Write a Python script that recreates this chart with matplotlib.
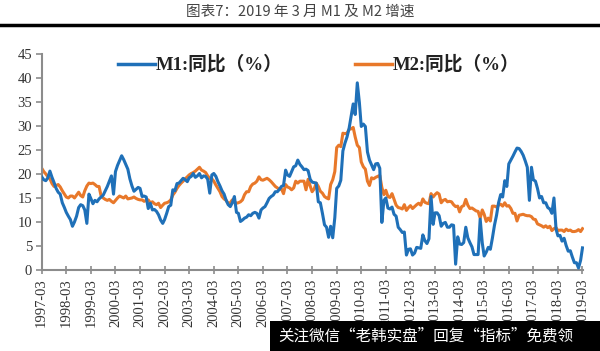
import numpy as np
import pandas as pd
import matplotlib
matplotlib.use("Agg")
import matplotlib.pyplot as plt
from matplotlib.lines import Line2D

# monthly yoy growth, 1997-03 .. 2019-03
m1_growth = [
    19.4, 18.8, 18.6, 19.2, 20.6, 19.3, 18.2, 17.0, 16.2, 15.8,                    # 1997
    14.0, 13.0, 12.0, 11.2, 10.5, 9.1, 10.0, 11.2, 13.0, 13.6, 13.4, 12.5,         # 1998
    9.7, 15.8, 14.9, 13.8, 14.5, 14.2, 14.8, 15.2, 15.6, 16.5, 17.4, 18.5,         # 1999
    19.6, 15.8, 20.5, 21.8, 22.8, 23.8, 23.0, 22.0, 21.0, 19.0, 17.5, 16.4,        # 2000
    16.8, 17.2, 17.0, 15.3, 15.4, 15.2, 12.8, 13.9, 12.5, 12.6, 12.2, 11.5,        # 2001
    10.4, 9.7, 10.5, 11.8, 13.2, 13.5, 16.7, 16.5, 18.0, 18.1, 18.6, 19.1,         # 2002
    18.8, 18.4, 19.2, 19.5, 20.1, 19.3, 19.6, 20.1, 19.2, 19.6, 19.5, 18.9,        # 2003
    16.0, 19.8, 20.1, 19.5, 18.4, 17.5, 16.5, 15.8, 14.5, 13.6, 13.2, 14.0,        # 2004
    15.3, 12.0, 11.8, 10.1, 10.4, 10.8, 11.0, 11.5, 11.3, 11.8, 12.0, 11.8,        # 2005
    10.8, 12.5, 12.9, 13.2, 14.0, 14.9, 15.3, 15.6, 16.3, 16.3, 16.8, 17.4,        # 2006
    17.6, 20.8, 19.8, 19.5, 20.5, 21.5, 21.7, 22.9, 22.0, 21.5, 20.9, 21.0,        # 2007
    20.7, 18.9, 18.3, 18.2, 18.1, 14.2, 14.0, 11.8, 9.4, 8.9, 6.8, 9.1,            # 2008
    6.7, 10.9, 17.0, 17.5, 18.7, 24.8, 26.4, 27.7, 29.5, 32.0, 34.6, 32.4,         # 2009
    39.0, 34.9, 29.9, 30.4, 29.9, 24.6, 22.9, 21.9, 20.9, 22.1, 22.2, 21.2,        # 2010
    9.9, 14.5, 15.0, 12.9, 12.7, 13.1, 11.6, 11.2, 8.9, 8.4, 7.8, 7.9,             # 2011
    3.1, 4.3, 4.4, 3.1, 3.5, 4.7, 4.6, 4.5, 7.3, 6.1, 5.5, 6.5,                    # 2012
    15.3, 9.5, 11.9, 11.9, 11.3, 9.1, 9.7, 9.9, 8.9, 8.9, 9.4, 9.3,                # 2013
    1.2, 6.9, 5.4, 5.3, 5.7, 8.9, 6.7, 5.7, 4.8, 3.2, 3.2, 3.2,                    # 2014
    10.6, 5.6, 2.9, 3.7, 4.7, 4.3, 6.6, 9.3, 11.4, 14.0, 15.7, 15.2,               # 2015
    18.6, 17.4, 22.1, 22.9, 23.7, 24.6, 25.4, 25.3, 24.7, 23.9, 22.7, 21.4,        # 2016
    14.5, 21.4, 18.8, 18.5, 17.0, 15.0, 15.3, 14.0, 14.0, 13.0, 12.7, 11.8,        # 2017
    15.0, 8.5, 7.1, 7.2, 6.0, 6.6, 5.1, 3.9, 4.0, 2.7, 1.5, 1.5,                   # 2018
    0.4, 2.0, 4.6,                                                                 # 2019
]

m2_growth = [
    21.2, 20.5, 20.0, 19.4, 19.0, 18.0, 17.4, 17.6, 17.8, 17.3,                    # 1997
    16.5, 15.8, 15.2, 15.0, 15.4, 15.4, 15.0, 15.6, 16.2, 15.5, 15.2, 16.5,        # 1998
    17.5, 18.1, 18.0, 18.1, 17.8, 17.4, 17.4, 15.4, 15.0, 14.7, 14.5, 14.7,        # 1999
    14.3, 14.0, 14.5, 15.0, 15.4, 15.2, 15.0, 15.4, 14.8, 14.9, 15.0, 15.2,        # 2000
    14.9, 14.7, 14.6, 14.6, 14.3, 14.5, 14.6, 14.0, 14.2, 13.8, 13.6, 13.9,        # 2001
    13.0, 13.5, 13.9, 14.0, 14.2, 14.6, 15.6, 16.2, 17.0, 17.6, 18.1, 18.5,        # 2002
    19.0, 19.4, 19.8, 20.1, 20.3, 20.6, 21.0, 21.4, 20.8, 20.6, 20.3, 19.6,        # 2003
    19.1, 19.0, 18.5, 17.7, 17.0, 16.3, 15.3, 14.8, 14.5, 13.9, 14.0, 14.6,        # 2004
    14.2, 13.9, 14.0, 14.2, 14.6, 15.7, 16.3, 16.3, 17.4, 17.9, 18.1, 18.5,        # 2005
    19.4, 18.8, 18.7, 18.9, 19.1, 18.8, 18.4, 17.9, 17.4, 17.1, 16.8, 16.9,        # 2006
    15.9, 17.8, 17.3, 17.1, 16.7, 17.1, 18.5, 18.1, 18.5, 18.5, 18.5, 16.7,        # 2007
    18.9, 17.5, 16.3, 16.9, 18.1, 17.4, 16.4, 16.0, 15.3, 15.0, 14.8, 17.8,        # 2008
    18.8, 20.5, 25.5, 26.0, 25.7, 28.5, 28.4, 28.5, 29.3, 29.4, 29.7, 27.7,        # 2009
    26.0, 25.5, 22.5, 21.5, 21.0, 18.5, 17.6, 19.2, 19.0, 19.3, 19.5, 19.7,        # 2010
    17.2, 15.7, 16.6, 15.3, 15.1, 15.9, 14.7, 13.5, 13.0, 12.9, 12.7, 13.6,        # 2011
    12.4, 13.0, 13.4, 12.8, 13.2, 13.6, 13.9, 13.5, 14.8, 14.1, 13.9, 13.8,        # 2012
    15.9, 15.2, 15.7, 16.1, 15.8, 14.0, 14.5, 14.7, 14.2, 14.3, 14.2, 13.6,        # 2013
    13.2, 13.3, 12.1, 13.2, 13.4, 14.7, 13.5, 12.8, 12.9, 12.6, 12.3, 12.2,        # 2014
    10.8, 12.5, 11.6, 10.1, 10.8, 10.2, 13.3, 13.3, 13.1, 13.5, 13.7, 13.3,        # 2015
    14.0, 13.3, 13.4, 12.8, 11.8, 11.8, 10.2, 11.4, 11.5, 11.6, 11.4, 11.3,        # 2016
    11.3, 11.1, 10.6, 10.5, 9.6, 9.4, 9.2, 8.9, 9.2, 8.8, 9.1, 8.2,                # 2017
    8.6, 8.8, 8.2, 8.3, 8.3, 8.0, 8.5, 8.2, 8.3, 8.0, 8.0, 8.1,                    # 2018
    8.4, 8.0, 8.6,                                                                 # 2019
]

years = list(range(1997, 2020))
tick_labels = [f"{y}-03" for y in years]
title_text = "图表7：2019 年 3 月 M1 及 M2 增速"
m1_label = "M1:同比（%）"
m2_label = "M2:同比（%）"
footer_text = "关注微信“老韩实盘”回复“指标”免费领"

blue = "#1f70b8"
orange = "#e8782a"
gray = "#8c8c8c"

dates = pd.date_range("1997-03-01", periods=len(m1_growth), freq="MS")
tick_dates = pd.to_datetime([f"{y}-03-01" for y in years])

fig = plt.figure(figsize=(6, 3.51), dpi=100)
ax = fig.add_axes([0.0695, 0.231, 0.903, 0.615])

ax.plot(dates, m1_growth, color=blue, lw=2.2, zorder=3)
ax.plot(dates, m2_growth, color=orange, lw=2.2, zorder=2)

ax.set_ylim(0, 45)
ax.set_yticks(np.arange(0, 46, 5))
ax.set_xlim(tick_dates[0], tick_dates[-1] + pd.Timedelta(days=15))
ax.set_xticks(tick_dates)
ax.set_xticklabels(tick_labels, rotation=90)

serif = ["Liberation Serif", "Noto Sans CJK SC"]
for lab in ax.get_xticklabels() + ax.get_yticklabels():
    lab.set_family(serif)
    lab.set_fontsize(10.5)
    lab.set_color("#333333")

for s in ["top", "right"]:
    ax.spines[s].set_visible(False)
for s in ["left", "bottom"]:
    ax.spines[s].set_color(gray)
    ax.spines[s].set_linewidth(1.5)
ax.tick_params(axis="y", direction="out", length=4, color=gray, width=1.2, pad=3)
ax.tick_params(axis="x", direction="inout", length=6, color=gray, width=1.2, pad=3)

# legend drawn by hand along the top of the plot
legend_font = {"family": ["Liberation Serif", "Noto Sans CJK SC"], "weight": "bold", "size": 13.5}
fig.add_artist(Line2D([118 / 600, 155 / 600], [1 - 64 / 351] * 2, color=blue, lw=2.5))
fig.text(156 / 600, 1 - 64 / 351, m1_label, ha="left", va="center", color="#222222", **legend_font)
fig.add_artist(Line2D([355 / 600, 392 / 600], [1 - 64 / 351] * 2, color=orange, lw=2.5))
fig.text(393 / 600, 1 - 64 / 351, m2_label, ha="left", va="center", color="#222222", **legend_font)

# title with heavy rule under it
fig.text(0.5, 1 - 12 / 351, title_text, ha="center", va="center", fontsize=10.5,
         family=["Noto Sans CJK SC", "DejaVu Sans"], color="#444444")
fig.add_artist(Line2D([0, 1], [1 - 25 / 351] * 2, color="black", lw=2.5))

# black caption box at bottom right
fig.patches.append(plt.Rectangle((270 / 600, 0), 330 / 600, 30 / 351, transform=fig.transFigure,
                                 facecolor="black", edgecolor="none", zorder=5))
fig.text(278 / 600, 15 / 351, footer_text, ha="left", va="center", fontsize=11.2,
         family=["Noto Sans CJK SC", "DejaVu Sans"], color="white", zorder=6)

fig.savefig("out.png", dpi=100)
